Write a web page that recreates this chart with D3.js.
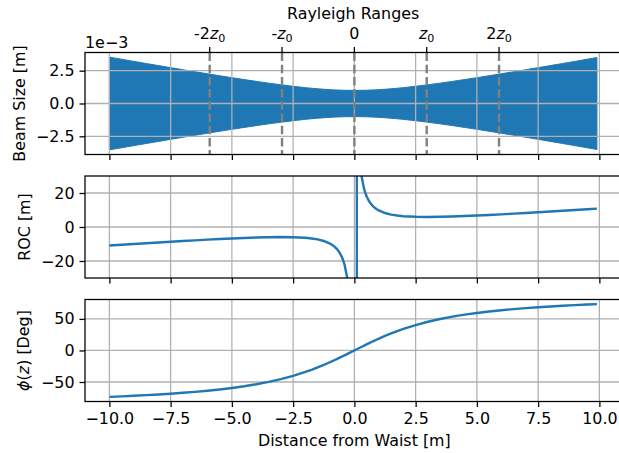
<!DOCTYPE html>
<html>
<head>
<meta charset="utf-8">
<script src="https://cdn.jsdelivr.net/npm/d3@7"></script>
<style>
  html, body { margin: 0; padding: 0; background: #fff; }
  svg { display: block; font-family: "DejaVu Sans", sans-serif; }
</style>
</head>
<body>
<svg id="chart" width="619" height="453"></svg>
<script>
// Distance from the beam waist [m]
const zPos = [-10, -9.5, -9, -8.5, -8, -7.5, -7, -6.5, -6, -5.5, -5, -4.5, -4, -3.5, -3, -2.5, -2,
  -1.75, -1.5, -1.25, -1, -0.9, -0.8, -0.7, -0.6, -0.5, -0.4, -0.3, -0.2, -0.1, 0,
  0.1, 0.2, 0.3, 0.4, 0.5, 0.6, 0.7, 0.8, 0.9, 1, 1.25, 1.5, 1.75,
  2, 2.5, 3, 3.5, 4, 4.5, 5, 5.5, 6, 6.5, 7, 7.5, 8, 8.5, 9, 9.5, 9.9];

// Beam radius w(z), in units of 1e-3 m
const beamRadius = [3.531, 3.369, 3.208, 3.047, 2.888, 2.730, 2.573, 2.418, 2.265, 2.114, 1.967, 1.823, 1.684, 1.551, 1.426, 1.310, 1.208,
  1.162, 1.122, 1.086, 1.056, 1.045, 1.036, 1.028, 1.020, 1.014, 1.009, 1.005, 1.002, 1.001, 1.000,
  1.001, 1.002, 1.005, 1.009, 1.014, 1.020, 1.028, 1.036, 1.045, 1.056, 1.086, 1.122, 1.162,
  1.208, 1.310, 1.426, 1.551, 1.684, 1.823, 1.967, 2.114, 2.265, 2.418, 2.573, 2.730, 2.888, 3.047, 3.208, 3.369, 3.499];

// Wavefront radius of curvature R(z) [m]; diverges at the waist
const roc = [-10.872, -10.418, -9.969, -9.526, -9.090, -8.662, -8.245, -7.841, -7.453, -7.085, -6.744, -6.437, -6.180, -5.991, -5.906, -5.987, -6.359,
  -6.732, -7.312, -8.224, -9.718, -10.587, -11.698, -13.154, -15.130, -17.936, -22.195, -29.360, -43.790, -87.280, -1e6,
  87.280, 43.790, 29.360, 22.195, 17.936, 15.130, 13.154, 11.698, 10.587, 9.718, 8.224, 7.312, 6.732,
  6.359, 5.987, 5.906, 5.991, 6.180, 6.437, 6.744, 7.085, 7.453, 7.841, 8.245, 8.662, 9.090, 9.526, 9.969, 10.418, 10.781];

// Gouy phase [deg]
const gouy = [-73.55, -72.73, -71.84, -70.85, -69.74, -68.51, -67.13, -65.57, -63.80, -61.78, -59.44, -56.73, -53.57, -49.85, -45.46, -40.26, -34.11,
  -30.65, -26.93, -22.95, -18.71, -16.95, -15.16, -13.34, -11.49, -9.61, -7.72, -5.80, -3.88, -1.94, 0,
  1.94, 3.88, 5.80, 7.72, 9.61, 11.49, 13.34, 15.16, 16.95, 18.71, 22.95, 26.93, 30.65,
  34.11, 40.26, 45.46, 49.85, 53.57, 56.73, 59.44, 61.78, 63.80, 65.57, 67.13, 68.51, 69.74, 70.85, 71.84, 72.73, 73.39];

// Rayleigh range markers [m] and their labels
const rayleighPos = [-5.905, -2.953, 0, 2.953, 5.905];
const rayleighLabels = [["-2", "z", "0"], ["-", "z", "0"], ["0", "", ""], ["", "z", "0"], ["2", "z", "0"]];

// Axis ticks
const xTicks = [-10, -7.5, -5, -2.5, 0, 2.5, 5, 7.5, 10];
const beamTicks = [-2.5, 0, 2.5];
const rocTicks = [-20, 0, 20];
const gouyTicks = [-50, 0, 50];

const FS = 15.9;
const BLUE = "#1f77b4";
const svg = d3.select("#chart");

const x = d3.scaleLinear().domain([-10.995, 10.895]).range([85, 621.3]);
const fmtSigned = (f) => (v) => { const s = d3.format(f)(Math.abs(v)); return v < 0 ? "\u2212" + s : s; };

const panels = [
  { top: 52.5, bottom: 154.5, domain: [-3.884, 3.884], ticks: beamTicks, fmt: fmtSigned(".1f") },
  { top: 176, bottom: 278, domain: [-30, 30], ticks: rocTicks, fmt: fmtSigned("d") },
  { top: 299.5, bottom: 401.5, domain: [-80.90, 80.74], ticks: gouyTicks, fmt: fmtSigned("d") }
];

panels.forEach((p, i) => {
  p.y = d3.scaleLinear().domain(p.domain).range([p.bottom, p.top]);
  p.g = svg.append("g");
  p.g.append("clipPath").attr("id", "clip" + i)
    .append("rect").attr("x", x.range()[0]).attr("y", p.top)
    .attr("width", x.range()[1] - x.range()[0]).attr("height", p.bottom - p.top);
});

const pts = zPos.map((z, i) => ({ z, w: beamRadius[i], r: roc[i], g: gouy[i] }));

// Top panel: beam envelope filled between -w and +w
{
  const p = panels[0];
  p.g.append("path").datum(pts)
    .attr("clip-path", "url(#clip0)")
    .attr("fill", BLUE).attr("stroke", BLUE).attr("stroke-width", 1)
    .attr("d", d3.area().x(d => x(d.z)).y0(d => p.y(-d.w)).y1(d => p.y(d.w)));
}

// Grid lines (drawn above the fill, below the curves)
panels.forEach((p) => {
  const grid = p.g.append("g").attr("stroke", "#b0b0b0").attr("stroke-width", 1.27);
  xTicks.forEach(t => grid.append("line").attr("x1", x(t)).attr("x2", x(t)).attr("y1", p.top).attr("y2", p.bottom));
  p.ticks.forEach(t => grid.append("line").attr("x1", x.range()[0]).attr("x2", x.range()[1]).attr("y1", p.y(t)).attr("y2", p.y(t)));
});

// Rayleigh range markers in the top panel
{
  const p = panels[0];
  p.g.append("g").selectAll("line").data(rayleighPos).join("line")
    .attr("x1", d => x(d)).attr("x2", d => x(d)).attr("y1", p.top).attr("y2", p.bottom)
    .attr("stroke", "#808080").attr("stroke-width", 2.4).attr("stroke-dasharray", "8.5,3.7");
}

// ROC and Gouy phase curves
[["r", 1], ["g", 2]].forEach(([key, i]) => {
  const p = panels[i];
  p.g.append("path").datum(pts)
    .attr("clip-path", "url(#clip" + i + ")")
    .attr("fill", "none").attr("stroke", BLUE).attr("stroke-width", 2.4)
    .attr("stroke-linejoin", "round")
    .attr("d", d3.line().x(d => x(d.z)).y(d => p.y(d[key])));
});

// Axes, spines and tick labels
panels.forEach((p, i) => {
  const yAxis = p.g.append("g").attr("transform", `translate(${x.range()[0]},0)`)
    .call(d3.axisLeft(p.y).tickValues(p.ticks).tickFormat(p.fmt).tickSize(5.5).tickPadding(5));
  const xAxis = p.g.append("g").attr("transform", `translate(0,${p.bottom})`)
    .call(d3.axisBottom(x).tickValues(xTicks).tickFormat(i === 2 ? fmtSigned(".1f") : () => "").tickSize(5.5).tickPadding(5.5));
  [yAxis, xAxis].forEach(a => {
    a.select(".domain").remove();
    a.selectAll(".tick line").attr("stroke", "#000").attr("stroke-width", 1.27);
    a.selectAll(".tick text").attr("fill", "#000").attr("font-size", FS).attr("font-family", "DejaVu Sans");
  });
  p.g.append("rect").attr("x", x.range()[0]).attr("y", p.top)
    .attr("width", x.range()[1] - x.range()[0]).attr("height", p.bottom - p.top)
    .attr("fill", "none").attr("stroke", "#000").attr("stroke-width", 1.27);
});

// Secondary top axis: Rayleigh ranges
{
  const p = panels[0];
  const top = p.g.append("g");
  rayleighPos.forEach((v, k) => {
    top.append("line").attr("x1", x(v)).attr("x2", x(v)).attr("y1", p.top).attr("y2", p.top - 5.5)
      .attr("stroke", "#000").attr("stroke-width", 1.27);
    const [pre, it, sub] = rayleighLabels[k];
    const t = top.append("text").attr("x", x(v)).attr("y", 38.5)
      .attr("text-anchor", "middle").attr("font-size", FS);
    if (pre) t.append("tspan").text(pre);
    if (it) t.append("tspan").attr("font-style", "italic").text(it);
    if (sub) t.append("tspan").attr("font-size", FS * 0.7).attr("dy", 3).text(sub);
  });
  top.append("text").attr("x", (x.range()[0] + x.range()[1]) / 2).attr("y", 18.7)
    .attr("text-anchor", "middle").attr("font-size", FS).text("Rayleigh Ranges");
  // scale factor for the beam size axis
  top.append("text").attr("x", 85).attr("y", 47.5).attr("font-size", FS).text("1e\u22123");
}

// Axis titles
const yLabel = (xPos, yPos) => svg.append("text")
  .attr("transform", `translate(${xPos},${yPos}) rotate(-90)`)
  .attr("text-anchor", "middle").attr("font-size", FS);
yLabel(24.8, 103.5).text("Beam Size [m]");
yLabel(30.4, 227).text("ROC [m]");
{
  const t = yLabel(28.8, 350.5);
  t.append("tspan").attr("font-style", "italic").text("\u03d5");
  t.append("tspan").text("(");
  t.append("tspan").attr("font-style", "italic").text("z");
  t.append("tspan").text(") [Deg]");
}
svg.append("text").attr("x", x(0)).attr("y", 445.5).attr("text-anchor", "middle")
  .attr("font-size", FS).text("Distance from Waist [m]");
</script>
</body>
</html>
